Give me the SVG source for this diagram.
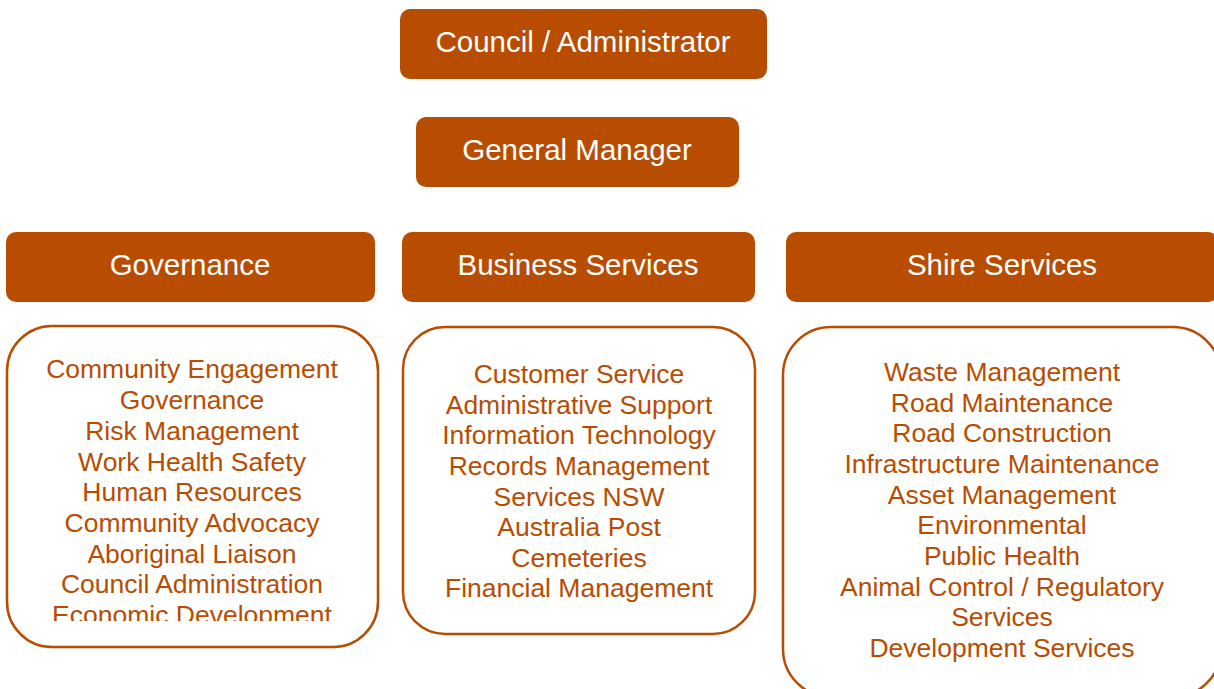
<svg xmlns="http://www.w3.org/2000/svg" width="1214" height="689" viewBox="0 0 1214 689">
<style>
.hdr{fill:#B84D02}
.hdrt{fill:#fff;font-family:"Liberation Sans",Arial,sans-serif;font-size:29.5px;text-anchor:middle}
.lst{fill:#fff;stroke:#B84D02;stroke-width:2.5}
.lstt{fill:#B84D02;font-family:"Liberation Sans",Arial,sans-serif;font-size:26.5px;text-anchor:middle}
</style>
<defs>
<clipPath id="govclip"><rect x="0" y="320" width="400" height="301"/></clipPath>
</defs>
<rect width="1214" height="689" fill="#fff"/>
<g id="connectors"></g>
<g id="council">
<rect class="hdr" x="400" y="9" width="367" height="70" rx="10"/>
<text class="hdrt" x="583" y="52">Council / Administrator</text>
</g>
<g id="gm">
<rect class="hdr" x="416" y="117" width="323" height="70" rx="10"/>
<text class="hdrt" x="577" y="160">General Manager</text>
</g>
<g id="governance">
<rect class="hdr" x="6" y="232" width="369" height="70" rx="10"/>
<text class="hdrt" x="190" y="275">Governance</text>
</g>
<g id="business">
<rect class="hdr" x="402" y="232" width="353" height="70" rx="10"/>
<text class="hdrt" x="578" y="275">Business Services</text>
</g>
<g id="shire">
<rect class="hdr" x="786" y="232" width="432" height="70" rx="10"/>
<text class="hdrt" x="1002" y="275">Shire Services</text>
</g>
<g id="governance-list">
<rect class="lst" x="7" y="326" width="371" height="321" rx="45"/>
<g clip-path="url(#govclip)">
<text class="lstt" x="192" y="378">Community Engagement</text>
<text class="lstt" x="192" y="409">Governance</text>
<text class="lstt" x="192" y="440">Risk Management</text>
<text class="lstt" x="192" y="471">Work Health Safety</text>
<text class="lstt" x="192" y="501">Human Resources</text>
<text class="lstt" x="192" y="532">Community Advocacy</text>
<text class="lstt" x="192" y="563">Aboriginal Liaison</text>
<text class="lstt" x="192" y="593">Council Administration</text>
<text class="lstt" x="192" y="624">Economic Development</text>
</g>
</g>
<g id="business-list">
<rect class="lst" x="403" y="327" width="352" height="307" rx="42"/>
<text class="lstt" x="579" y="383">Customer Service</text>
<text class="lstt" x="579" y="414">Administrative Support</text>
<text class="lstt" x="579" y="444">Information Technology</text>
<text class="lstt" x="579" y="475">Records Management</text>
<text class="lstt" x="579" y="506">Services NSW</text>
<text class="lstt" x="579" y="536">Australia Post</text>
<text class="lstt" x="579" y="567">Cemeteries</text>
<text class="lstt" x="579" y="597">Financial Management</text>
</g>
<g id="shire-list">
<rect class="lst" x="783" y="327" width="438" height="370" rx="48"/>
<text class="lstt" x="1002" y="381">Waste Management</text>
<text class="lstt" x="1002" y="412">Road Maintenance</text>
<text class="lstt" x="1002" y="442">Road Construction</text>
<text class="lstt" x="1002" y="473">Infrastructure Maintenance</text>
<text class="lstt" x="1002" y="504">Asset Management</text>
<text class="lstt" x="1002" y="534">Environmental</text>
<text class="lstt" x="1002" y="565">Public Health</text>
<text class="lstt" x="1002" y="596">Animal Control / Regulatory</text>
<text class="lstt" x="1002" y="626">Services</text>
<text class="lstt" x="1002" y="657">Development Services</text>
</g>
</svg>
